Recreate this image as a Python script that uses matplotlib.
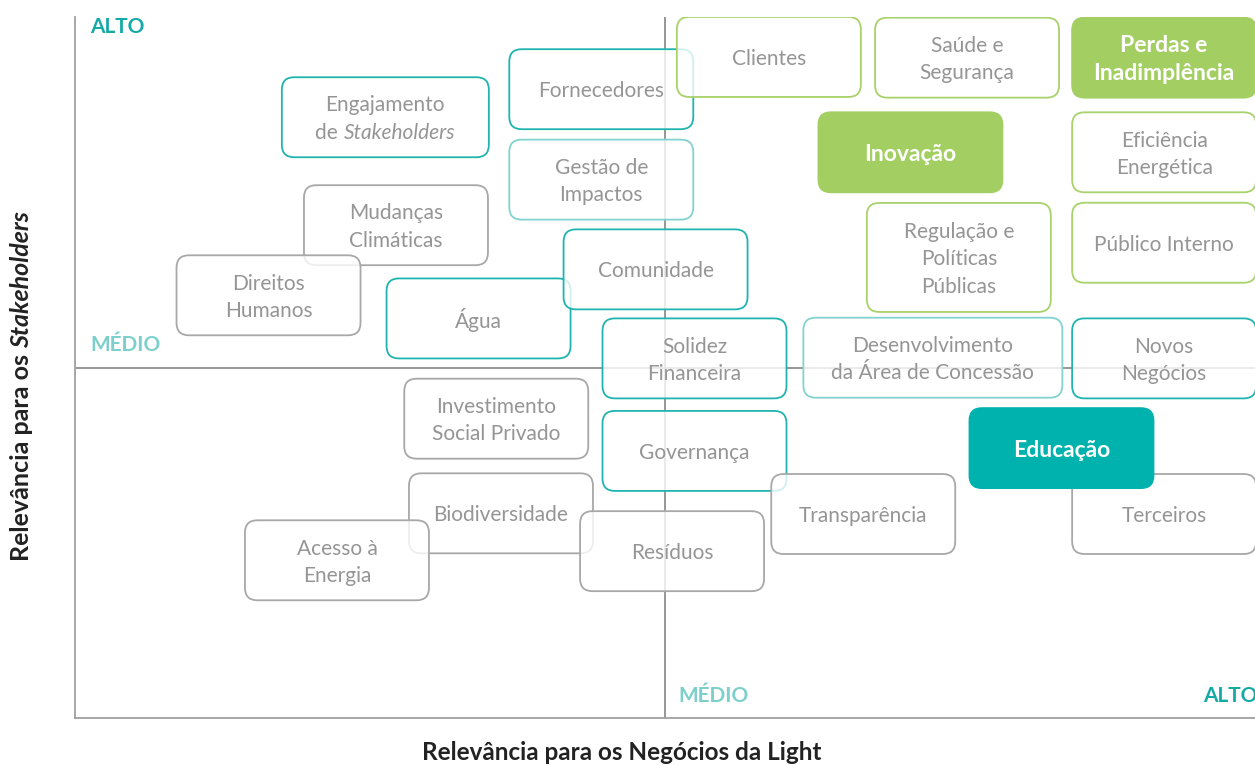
import matplotlib
matplotlib.use("Agg")
import matplotlib.pyplot as plt
from matplotlib.patches import FancyBboxPatch
from matplotlib.transforms import Affine2D

# Temas materiais (ordem = ordem de desenho)
temas = [
    "Engajamento\nde *Stakeholders*", "Fornecedores", "Clientes", "Saúde e\nSegurança",
    "Perdas e\nInadimplência", "Gestão de\nImpactos", "Inovação", "Eficiência\nEnergética",
    "Mudanças\nClimáticas", "Direitos\nHumanos", "Água", "Comunidade",
    "Regulação e\nPolíticas\nPúblicas", "Público Interno", "Solidez\nFinanceira",
    "Desenvolvimento\nda Área de Concessão", "Novos\nNegócios", "Investimento\nSocial Privado",
    "Governança", "Transparência", "Terceiros", "Educação", "Biodiversidade",
    "Resíduos", "Acesso à\nEnergia",
]
# relevância para os negócios (0-100)
negocios = [26.3, 44.6, 58.8, 75.6, 92.3, 44.6, 70.8, 92.3, 27.2, 16.4, 34.2, 49.2,
            74.9, 92.3, 52.5, 72.7, 92.3, 35.7, 52.5, 66.8, 92.3, 83.6, 36.1, 50.6, 22.2]
# relevância para os stakeholders (0-100)
stakeholders = [85.7, 89.7, 94.3, 94.2, 94.2, 76.8, 80.7, 80.7, 70.3, 60.3, 57.0, 64.0,
                65.7, 67.8, 51.3, 51.4, 51.3, 42.7, 38.1, 29.1, 29.1, 38.5, 29.2, 23.8, 22.5]
grupo = ["teal", "teal", "verde", "verde", "verde_d", "teal_c", "verde_d", "verde",
         "cinza", "cinza", "teal", "teal", "verde", "verde", "teal", "teal_c", "teal",
         "cinza", "teal", "cinza", "cinza", "teal_d", "cinza", "cinza", "cinza"]

W, H = 1255, 765
estilos = {
    "teal": ("#1FB4B0", "white", "#959595", "normal"),
    "teal_c": ("#82D3D0", "white", "#959595", "normal"),
    "verde": ("#A8D26A", "white", "#959595", "normal"),
    "cinza": ("#A8A8A8", "white", "#959595", "normal"),
    "verde_d": ("#A3CF62", "#A3CF62", "white", "bold"),
    "teal_d": ("#00B2AE", "#00B2AE", "white", "bold"),
}

fig = plt.figure(figsize=(W / 100, H / 100), dpi=100)
ax = fig.add_axes([75 / W, (H - 718) / H, (W - 75) / W, (718 - 17) / H])
ax.set_xlim(0, 100)
ax.set_ylim(0, 100)
ax.set_xticks([])
ax.set_yticks([])
for s in ["top", "right"]:
    ax.spines[s].set_visible(False)
for s in ["left", "bottom"]:
    ax.spines[s].set_color("#A0A0A0")
    ax.spines[s].set_linewidth(1.3)
ax.axvline(50, color="#7A7A7A", lw=1.1, zorder=1)
ax.axhline(50, color="#7A7A7A", lw=1.1, zorder=1)

px_x = (W - 75) / 100.0
px_y = (718 - 17) / 100.0
bw, bh = 184 / px_x, 80 / px_y
largura = {"Desenvolvimento\nda Área de Concessão": 259 / px_x,
           "Engajamento\nde *Stakeholders*": 207 / px_x}
altura = {"Regulação e\nPolíticas\nPúblicas": 109 / px_y}

fig.canvas.draw()
renderer = fig.canvas.get_renderer()
fonte = "Lato"


def linha_rica(x, y, linha, cor, peso, dy, z):
    partes = linha.split("*")
    tam = 16.5 if peso == "bold" else 15
    objs = []
    for i, p in enumerate(partes):
        if not p:
            continue
        t = ax.text(x, y, p, ha="left", va="center", color=cor, fontsize=tam,
                    family=fonte, weight=peso, style="italic" if i % 2 else "normal",
                    zorder=z)
        objs.append(t)
    larg = [t.get_window_extent(renderer).width for t in objs]
    acc = -sum(larg) / 2
    for t, w in zip(objs, larg):
        t.set_transform(ax.transData + Affine2D().translate(acc, dy))
        acc += w


for i, (nome, x, y, g) in enumerate(zip(temas, negocios, stakeholders, grupo)):
    borda, fundo, cor_txt, peso = estilos[g]
    w = largura.get(nome, bw)
    h = altura.get(nome, bh)
    z = 3 + i * 0.1
    caixa = FancyBboxPatch((x - w / 2, y - h / 2), w, h,
                           boxstyle="round,pad=0,rounding_size=1.05",
                           mutation_aspect=px_x / px_y,
                           fc=fundo, ec=borda, lw=1.3, zorder=z)
    if fundo == "white":
        caixa.set_facecolor((1, 1, 1, 0.8))
    ax.add_patch(caixa)
    linhas = nome.split("\n")
    n = len(linhas)
    for k, ln in enumerate(linhas):
        dy = -(k - (n - 1) / 2) * 27.5 - 2
        linha_rica(x, y, ln, cor_txt, peso, dy, z + 0.05)

# rótulos de nível
teal_escuro = "#13A9A5"
teal_claro = "#7DCFCC"
fig.text(90 / W, 1 - 27 / H, "ALTO", color=teal_escuro, fontsize=15, weight="bold",
         family=fonte, ha="left", va="center")
fig.text(90 / W, 1 - 345 / H, "MÉDIO", color=teal_claro, fontsize=15, weight="bold",
         family=fonte, ha="left", va="center")
fig.text(678 / W, 1 - 696 / H, "MÉDIO", color=teal_claro, fontsize=15, weight="bold",
         family=fonte, ha="left", va="center")
fig.text(1257 / W, 1 - 696 / H, "ALTO", color=teal_escuro, fontsize=15, weight="bold",
         family=fonte, ha="right", va="center")

# títulos dos eixos
fig.text(622 / W, 1 - 752 / H, "Relevância para os Negócios da Light", color="#222222",
         fontsize=17.5, weight="bold", family=fonte, ha="center", va="center")
t1 = fig.text(22 / W, 1 - 561 / H, "Relevância para os ", color="#222222", fontsize=18,
              weight="bold", family=fonte, rotation=90, ha="center", va="bottom")
ax.annotate("Stakeholders", xy=(0.5, 1), xycoords=t1, color="#222222", fontsize=18,
            weight="bold", style="italic", family=fonte, rotation=90,
            ha="center", va="bottom", annotation_clip=False)

fig.savefig("out.png", dpi=100)
